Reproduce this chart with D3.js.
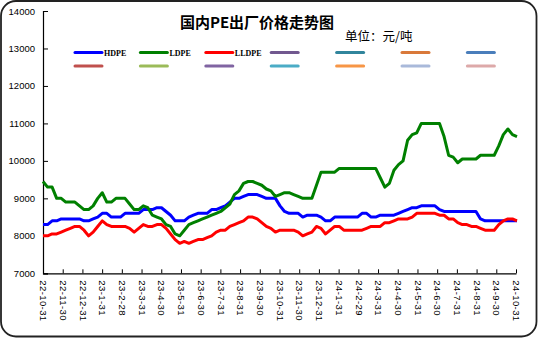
<!DOCTYPE html>
<html><head><meta charset="utf-8">
<script src="https://cdn.jsdelivr.net/npm/d3@7"></script>
<style>html,body{margin:0;padding:0;background:#fff;}svg{display:block;}</style>
</head><body>
<svg id="chart" width="538" height="338"></svg>
<script>
const months = ["22-10-31","22-11-30","22-12-31","23-1-31","23-2-28","23-3-31","23-4-30","23-5-31","23-6-30","23-7-31","23-8-31","23-9-30","23-10-31","23-11-30","23-12-31","24-1-31","24-2-29","24-3-31","24-4-30","24-5-31","24-6-30","24-7-31","24-8-31","24-9-30","24-10-31"];
const yTicks = [7000,8000,9000,10000,11000,12000,13000,14000];
const hdpe = [8300,8300,8400,8400,8450,8450,8450,8450,8450,8400,
8400,8450,8500,8600,8600,8500,8500,8500,8600,8600,
8600,8600,8700,8700,8700,8750,8750,8650,8550,8400,
8400,8400,8500,8550,8600,8600,8600,8700,8700,8750,
8800,8900,9000,9000,9050,9100,9100,9100,9050,9000,
9000,9000,8800,8650,8600,8600,8600,8500,8550,8550,
8550,8500,8400,8400,8500,8500,8500,8500,8500,8500,
8600,8600,8500,8500,8550,8550,8550,8550,8600,8650,
8700,8750,8750,8800,8800,8800,8800,8700,8650,8650,
8650,8650,8650,8650,8650,8650,8450,8400,8400,8400,
8400,8400,8400,8400,8400];
const ldpe = [9450,9300,9300,9000,9000,8900,8900,8900,8800,8700,
8700,8800,9000,9150,8900,8900,9000,9000,9000,8850,
8700,8700,8800,8750,8550,8500,8450,8300,8250,8050,
8000,8150,8300,8350,8400,8450,8500,8550,8600,8650,
8750,8850,9100,9200,9400,9450,9450,9400,9350,9250,
9200,9050,9100,9150,9150,9100,9050,9000,9000,9000,
9350,9700,9700,9700,9700,9800,9800,9800,9800,9800,
9800,9800,9800,9800,9550,9300,9400,9750,9900,10000,
10550,10700,10750,11000,11000,11000,11000,11000,10650,10150,
10100,9950,10050,10050,10050,10050,10150,10150,10150,10150,
10400,10700,10850,10700,10650];
const lldpe = [8000,8000,8050,8050,8100,8150,8200,8250,8250,8150,
8000,8100,8250,8400,8300,8250,8250,8250,8250,8200,
8100,8200,8300,8250,8250,8300,8300,8200,8050,7900,
7800,7850,7800,7850,7900,7900,7950,8000,8100,8150,
8150,8250,8300,8350,8400,8500,8500,8450,8350,8250,
8200,8100,8150,8150,8150,8150,8100,8000,8050,8100,
8250,8200,8050,8150,8250,8250,8150,8150,8150,8150,
8150,8200,8250,8250,8250,8350,8350,8400,8450,8450,
8450,8500,8600,8600,8600,8600,8600,8550,8550,8450,
8450,8350,8300,8300,8250,8250,8200,8150,8150,8150,
8300,8400,8450,8450,8400];
const seriesNames = ["HDPE","LDPE","LLDPE"];
const seriesColors = ["#0000FF","#008000","#FF0000"];
const legendNames = ["HDPE","LDPE","LLDPE","","","","","","","","","","",""];
const legendColors = ["#0000FF","#008000","#FF0000","#71588F","#31859C","#D9793A","#4A7EBB",
                      "#C0504D","#9BBB59","#8064A2","#4BACC6","#F79646","#A9B9DA","#DDA9A9"];

const svg = d3.select("#chart");
const W = 538, H = 338;
const X0 = 43, X1 = 517, YT = 11, YB = 273.3;

svg.append("rect").attr("x",1).attr("y",1).attr("width",W-2.5).attr("height",H-2.5)
  .attr("rx",15).attr("ry",15).attr("fill","#fff").attr("stroke","#222").attr("stroke-width",1.8);

const x = d3.scaleLinear().domain([0, hdpe.length-1]).range([X0, X1]);
const xm = d3.scalePoint().domain(months).range([X0, 516]);
const y = d3.scaleLinear().domain([7000,14000]).range([YB, YT]);

const yAxis = svg.append("g").attr("transform",`translate(${X0},0)`)
  .call(d3.axisRight(y).tickValues(yTicks).tickSize(5).tickFormat(d3.format("d")));
yAxis.select(".domain").attr("stroke","#000").attr("stroke-width",1.2);
yAxis.selectAll(".tick line").attr("stroke","#000");
yAxis.selectAll(".tick text").attr("x",-8).attr("text-anchor","end")
  .attr("font-family","Liberation Sans, Arial, sans-serif").attr("font-size","9.5px").attr("fill","#000");

const xAxis = svg.append("g").attr("transform",`translate(0,${YB})`)
  .call(d3.axisTop(xm).tickSize(4).tickSizeOuter(0));
xAxis.select(".domain").attr("stroke","#000").attr("stroke-width",1.2);
xAxis.selectAll(".tick line").attr("stroke","#000");
xAxis.selectAll(".tick text")
  .attr("transform","rotate(90)").attr("x",7).attr("y",0).attr("dy","0.35em")
  .attr("text-anchor","start").attr("letter-spacing","0.4px")
  .attr("font-family","Liberation Sans, Arial, sans-serif").attr("font-size","9.5px").attr("fill","#000");

const data = [hdpe, ldpe, lldpe];
const line = d3.line().x((d,i)=>x(i)).y(d=>y(d));
data.forEach((s,k)=>{
  svg.append("path").datum(s).attr("d",line).attr("fill","none")
    .attr("stroke",seriesColors[k]).attr("stroke-width",3).attr("stroke-linejoin","round");
});

svg.append("text").attr("x",257).attr("y",28).attr("text-anchor","middle")
  .attr("font-family","Noto Sans CJK SC, sans-serif").attr("font-weight","bold")
  .attr("font-size","15px").attr("fill","#000").text("国内PE出厂价格走势图");
svg.append("text").attr("x",345).attr("y",41)
  .attr("font-family","Noto Sans CJK SC, sans-serif")
  .attr("font-size","12.5px").attr("fill","#000").text("单位：元/吨");

const lg = svg.append("g");
legendNames.forEach((n,i)=>{
  const col = i % 7, row = Math.floor(i/7);
  const lx = 74 + col*65.4, ly = 52.5 + row*13.4;
  lg.append("line").attr("x1",lx+1).attr("x2",lx+28).attr("y1",ly).attr("y2",ly)
    .attr("stroke",legendColors[i]).attr("stroke-width",3).attr("stroke-linecap","round");
  if(n) lg.append("text").attr("x",lx+30).attr("y",ly+3)
    .attr("font-family","Liberation Serif, serif").attr("font-weight","bold")
    .attr("font-size","8px").attr("fill","#000").text(n);
});
</script>
</body></html>
